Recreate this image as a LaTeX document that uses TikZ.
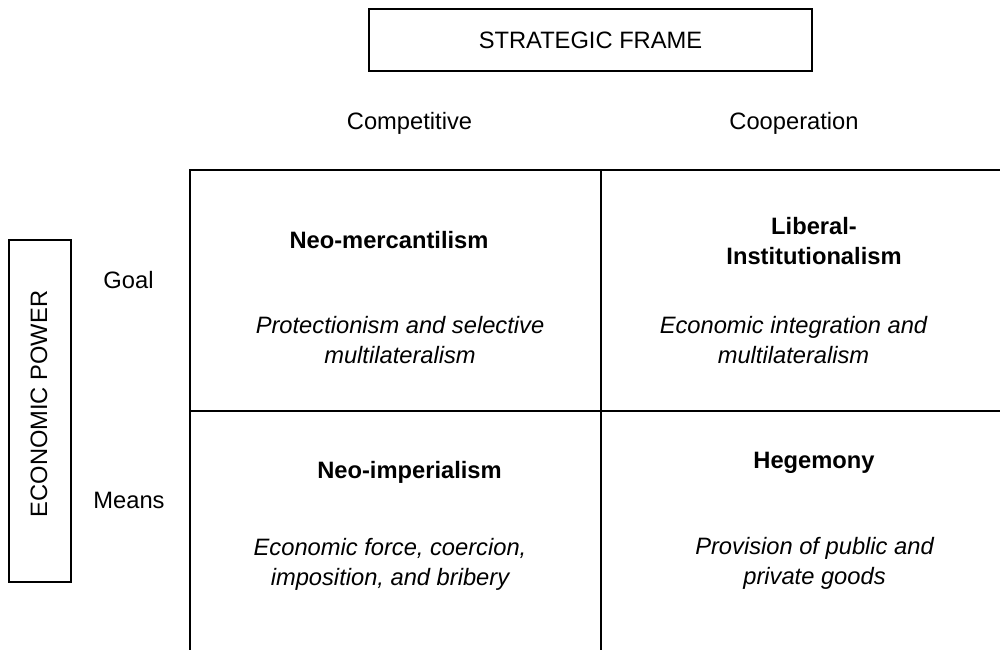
\documentclass[tikz,border=0pt]{standalone}
\usepackage{fontspec}
\setmainfont{Liberation Sans}
\begin{document}
\begin{tikzpicture}[x=1pt,y=-1pt,
  txt/.style={font=\fontsize{23.7}{30}\selectfont},
  frame/.style={draw, line width=2pt, inner sep=0pt},
  lbl/.style={txt, anchor=base, inner sep=0pt, align=center},
  title/.style={lbl, font=\fontsize{23.7}{30}\selectfont\bfseries},
  desc/.style={lbl, font=\fontsize{23.7}{30}\selectfont\itshape},
  gridline/.style={line width=2pt}]
\useasboundingbox (0,0) rectangle (1000,650);

% headings
\node[frame, txt, minimum width=443pt, minimum height=62pt] (sf) at (590.5,40) {STRATEGIC FRAME};
\node[lbl] (comp) at (409.5,129) {Competitive};
\node[lbl] (coop) at (794,129) {Cooperation};

\node[frame, minimum width=62pt, minimum height=342pt] (ep) at (40,411) {};
\node[lbl, rotate=90] (eptext) at (47,404) {ECONOMIC POWER};
\node[lbl] (goal) at (128.5,288) {Goal};
\node[lbl] (means) at (129,508) {Means};

% the 2x2 grid
\coordinate (tl) at (190,170);
\coordinate (tr) at (1000,170);
\coordinate (bl) at (190,650);
\coordinate (tm) at (600.5,170);
\coordinate (bm) at (600.5,650);
\coordinate (ml) at (190,410.5);
\coordinate (mr) at (1000,410.5);
\draw[gridline] (tr) -- (tl) -- (bl);
\draw[gridline] (tm) -- (bm);
\draw[gridline] (ml) -- (mr);

% cell contents (multi-line nodes are placed by their last baseline)
\node[title] (nm) at (389,248) {Neo-mercantilism};
\node[desc] (nmd) at (400,363) {Protectionism and selective\\multilateralism};
\node[title] (li) at (814,264) {Liberal-\\Institutionalism};
\node[desc] (lid) at (793.5,363) {Economic integration and\\multilateralism};
\node[title] (ni) at (409.5,478) {Neo-imperialism};
\node[desc] (nid) at (390,585) {Economic force, coercion,\\imposition, and bribery};
\node[title] (he) at (814,468) {Hegemony};
\node[desc] (hed) at (814.5,584) {Provision of public and\\private goods};
\end{tikzpicture}
\end{document}
